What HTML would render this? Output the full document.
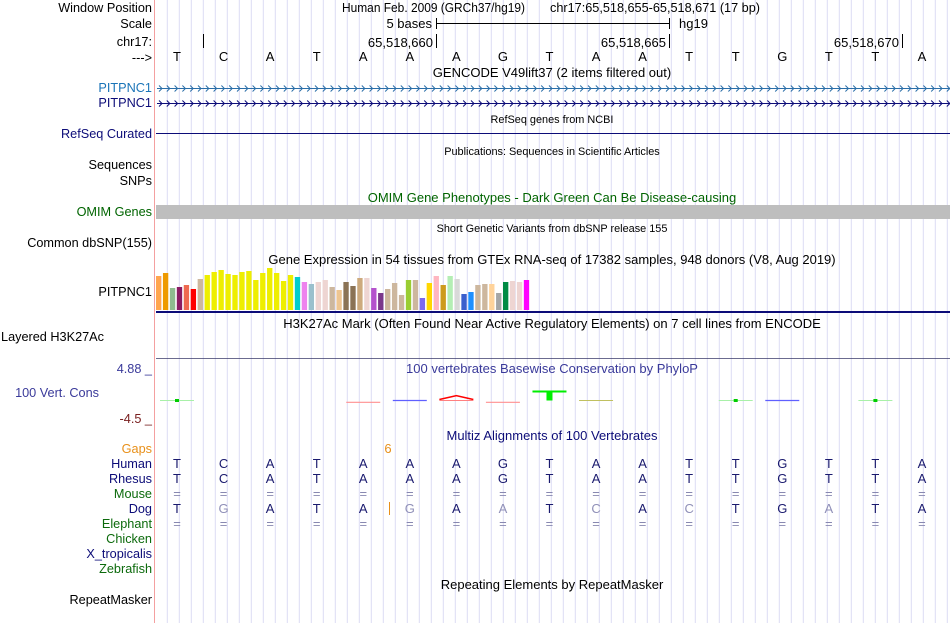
<!DOCTYPE html>
<html><head><meta charset="utf-8"><style>
html,body{margin:0;padding:0;background:#fff}
svg{display:block;font-family:"Liberation Sans",sans-serif}
</style></head><body>
<svg id="c" width="950" height="623" viewBox="0 0 950 623" xmlns="http://www.w3.org/2000/svg">
<g id="grid"></g>
<line x1="154.5" y1="0" x2="154.5" y2="623" stroke="#f4a0a0"/>
<g font-size="12.7" text-anchor="end">
<text x="152" y="12" fill="#000">Window Position</text>
<text x="152" y="28" fill="#000">Scale</text>
<text x="152" y="46" fill="#000">chr17:</text>
<text x="152" y="62" fill="#000">---&gt;</text>
<text x="152" y="92" fill="#1a74b8">PITPNC1</text>
<text x="152" y="107" fill="#0c0c78">PITPNC1</text>
<text x="152" y="138" fill="#0c0c78">RefSeq Curated</text>
<text x="152" y="169" fill="#000">Sequences</text>
<text x="152" y="185" fill="#000">SNPs</text>
<text x="152" y="216" fill="#006400">OMIM Genes</text>
<text x="152" y="247" fill="#000">Common dbSNP(155)</text>
<text x="152" y="296" fill="#000">PITPNC1</text>
<text x="104" y="341" fill="#000">Layered H3K27Ac</text>
<text x="152" y="373" fill="#3a3a9a">4.88 _</text>
<text x="99" y="397" fill="#3a3a9a">100 Vert. Cons</text>
<text x="152" y="423" fill="#7a2020">-4.5 _</text>
<text x="152" y="453" fill="#e8901a">Gaps</text>
<text x="152" y="468" fill="#0c0c78">Human</text>
<text x="152" y="483" fill="#0c0c78">Rhesus</text>
<text x="152" y="498" fill="#0c6a0c">Mouse</text>
<text x="152" y="513" fill="#0c0c78">Dog</text>
<text x="152" y="528" fill="#0c6a0c">Elephant</text>
<text x="152" y="543" fill="#0c6a0c">Chicken</text>
<text x="152" y="558" fill="#0c0c78">X_tropicalis</text>
<text x="152" y="573" fill="#0c6a0c">Zebrafish</text>
<text x="152" y="604" fill="#000">RepeatMasker</text>
</g>
<g font-size="13" fill="#000">
<text x="342" y="12" font-size="12.7" textLength="183" lengthAdjust="spacingAndGlyphs">Human Feb. 2009 (GRCh37/hg19)</text>
<text x="550" y="12" font-size="12.7" textLength="210" lengthAdjust="spacingAndGlyphs">chr17:65,518,655-65,518,671 (17 bp)</text>
<text x="432" y="28" text-anchor="end">5 bases</text>
<line x1="436.5" y1="18" x2="436.5" y2="29" stroke="#000"/>
<line x1="436" y1="23.5" x2="669" y2="23.5" stroke="#000"/>
<line x1="669.5" y1="18" x2="669.5" y2="29" stroke="#000"/>
<text x="679" y="28">hg19</text>
<line x1="203.5" y1="34" x2="203.5" y2="48" stroke="#000"/>
<text x="433" y="47" text-anchor="end">65,518,660</text>
<line x1="436.5" y1="34" x2="436.5" y2="48" stroke="#000"/>
<text x="666" y="47" text-anchor="end">65,518,665</text>
<line x1="669.5" y1="34" x2="669.5" y2="48" stroke="#000"/>
<text x="899" y="47" text-anchor="end">65,518,670</text>
<line x1="902.5" y1="34" x2="902.5" y2="48" stroke="#000"/>
<text x="552" y="77" text-anchor="middle">GENCODE V49lift37 (2 items filtered out)</text>
<text x="552" y="123" text-anchor="middle" font-size="10.9">RefSeq genes from NCBI</text>
<text x="552" y="155" text-anchor="middle" font-size="10.9">Publications: Sequences in Scientific Articles</text>
<text x="552" y="202" text-anchor="middle" fill="#006400">OMIM Gene Phenotypes - Dark Green Can Be Disease-causing</text>
<text x="552" y="232" text-anchor="middle" font-size="10.9">Short Genetic Variants from dbSNP release 155</text>
<text x="552" y="264" text-anchor="middle">Gene Expression in 54 tissues from GTEx RNA-seq of 17382 samples, 948 donors (V8, Aug 2019)</text>
<text x="552" y="328" text-anchor="middle">H3K27Ac Mark (Often Found Near Active Regulatory Elements) on 7 cell lines from ENCODE</text>
<text x="552" y="373" text-anchor="middle" fill="#3a3a9a">100 vertebrates Basewise Conservation by PhyloP</text>
<text x="552" y="440" text-anchor="middle" fill="#0c0c78">Multiz Alignments of 100 Vertebrates</text>
<text x="552" y="589" text-anchor="middle">Repeating Elements by RepeatMasker</text>
<text x="388" y="453" text-anchor="middle" fill="#e8901a">6</text>
<line x1="389.5" y1="502" x2="389.5" y2="515" stroke="#e8901a"/>
</g>
<line x1="156" y1="133.5" x2="950" y2="133.5" stroke="#0c0c78"/>
<rect x="156" y="205" width="794" height="14" fill="#bebebe"/>
<line x1="156" y1="312" x2="950" y2="312" stroke="#0c0c78" stroke-width="2"/>
<line x1="156" y1="358.5" x2="950" y2="358.5" stroke="#3a3a6a" stroke-width="0.8"/>
<g id="genes"></g>
<g id="bases"></g>
<g id="gtex"></g>
<g id="phylop"></g>
<g id="multiz"></g>
</svg>
<script>
const bases = ["T","C","A","T","A","A","A","G","T","A","A","T","T","G","T","T","A"];
const dogBases = ["T","G","A","T","A","G","A","A","T","C","A","C","T","G","A","T","A"];
const dogMismatch = [0,1,0,0,0,1,0,1,0,1,0,1,0,0,1,0,0];
const gtexValues = [34,37,22,23,25,21,31,35,38,40,36,35,38,39,30,37,42,37,29,35,33,28,26,28,30,23,20,28,24,32,32,22,17,21,27,15,30,30,12,27,34,25,34,31,16,18,25,26,26,17,28,29,28,30];
const gtexColors = ["#FFA54F","#EE9A00","#8FBC8F","#8B1C62","#EE6A50","#FF0000","#CDB79E","#EEEE00","#EEEE00","#EEEE00","#EEEE00","#EEEE00","#EEEE00","#EEEE00","#EEEE00","#EEEE00","#EEEE00","#EEEE00","#EEEE00","#EEEE00","#00CDCD","#EE82EE","#9AC0CD","#EED5D2","#EED5D2","#CDB79E","#EEC591","#8B7355","#8B7355","#CDAA7D","#EED5D2","#B452CD","#7A378B","#CDB79E","#CDB79E","#CDB79E","#9ACD32","#CDB79E","#7B68EE","#FFD700","#FFB6C1","#CD9B1D","#B4EEB4","#D9D9D9","#3A5FCD","#1E90FF","#CDB79E","#CDB79E","#FFD39B","#A6A6A6","#008B45","#EED5D2","#EED5D2","#FF00FF"];
const phylopValues = [0.8,0,0,0,-1.5,-0.3,-4,-1.5,7.5,0.1,0,0,0.8,-0.3,0,0.8,0];
const svg = document.getElementById('c');
const NS = "http://www.w3.org/2000/svg";
function mk(tag, attrs, parent){const e=document.createElementNS(NS,tag);for(const k in attrs)e.setAttribute(k,attrs[k]);parent.appendChild(e);return e;}
const BW = 46.56;
function xBase(i){return 177 + BW*i;}
const grid=document.getElementById('grid');
for(let x=167.3;x<950;x+=12){const l=mk('line',{x1:x,y1:0,x2:x,y2:623,stroke:'#dcdcf4','stroke-width':1},grid);

}
const genes=document.getElementById('genes');
[[88,'#2a6ea8'],[103,'#0c0c78']].forEach(([y,c],gi)=>{
 const g=mk('g',{},genes);
 
 
 mk('line',{x1:157,y1:y+0.5,x2:950,y2:y+0.5,stroke:c},g);
 let d='';for(let x=159;x<948;x+=7.8){d+=`M${x},${y-2.5}L${x+3},${y+0.5}L${x},${y+3.5}`;}
 mk('path',{d:d,stroke:c,fill:'none','stroke-width':1},g);
});
const bg=document.getElementById('bases');
bases.forEach((b,i)=>{
 const t=mk('text',{x:xBase(i),y:61,'font-size':13,'text-anchor':'middle',fill:'#000'},bg);t.textContent=b;
 
 
});
const gt=document.getElementById('gtex');
const gBase=310, gScale=1, gW=6.94;
gtexValues.forEach((v,i)=>{
 const r=mk('rect',{x:156+i*gW,y:gBase-v*gScale,width:gW-1.6,height:v*gScale,fill:gtexColors[i]},gt);
 
 
});
const ph=document.getElementById('phylop');
const pBase=400.5, pScale=1.2;
phylopValues.forEach((v,i)=>{
 if(v===0)return;
 const x1=xBase(i)-17,x2=xBase(i)+17;
 const g=mk('g',{},ph);
 
 
 if(v>=5){
  const y=pBase-v*pScale;
  mk('line',{x1:x1,y1:y,x2:x2,y2:y,stroke:'#00ee00','stroke-width':2},g);
  mk('rect',{x:xBase(i)-3,y:y,width:6,height:pBase-y,fill:'#00ee00'},g);
 } else if(v>0.5){
  mk('line',{x1:x1,y1:pBase,x2:x2,y2:pBase,stroke:'#a8f0a8'},g);
  mk('rect',{x:xBase(i)-2,y:pBase-1.5,width:4,height:3,fill:'#00cc00'},g);
 } else if(v>0){
  mk('line',{x1:x1,y1:pBase,x2:x2,y2:pBase,stroke:'#c0c060'},g);
 } else if(v>-1){
  mk('line',{x1:x1,y1:pBase,x2:x2,y2:pBase,stroke:'#6060ff','stroke-width':1.2},g);
 } else if(v>-3){
  mk('line',{x1:x1,y1:pBase+v*-1.2,x2:x2,y2:pBase+v*-1.2,stroke:'#ff9090','stroke-width':1.2},g);
 } else {
  mk('polyline',{points:`${x1},${pBase-1} ${xBase(i)},${pBase+v*1.2} ${x2},${pBase-1}`,stroke:'#ff0000',fill:'none','stroke-width':1.5},g);
  mk('line',{x1:x1,y1:pBase,x2:x2,y2:pBase,stroke:'#ff8080'},g);
 }
});
const mz=document.getElementById('multiz');
const navy='#1a1a6e';
bases.forEach((b,i)=>{
 const x=xBase(i);
 [[468,b,navy],[483,b,navy],[498,'=','#8888b0'],[513,dogBases[i],dogMismatch[i]?'#9090b8':navy],[528,'=','#8888b0']].forEach(([y,ch,c])=>{
  const t=mk('text',{x:x,y:y,'font-size':13,'text-anchor':'middle',fill:c},mz);t.textContent=ch;
  
  
 });
});
</script>
</body></html>
